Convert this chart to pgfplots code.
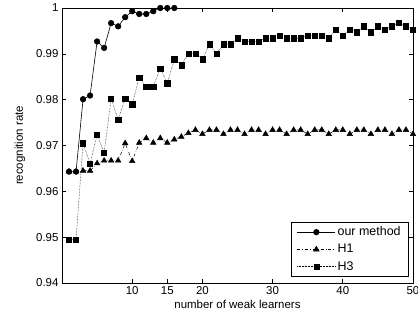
\documentclass[border=0pt]{standalone}
\usepackage{pgfplots}
\pgfplotsset{compat=1.18}
\usepackage{fontspec}
\setmainfont{Liberation Sans}
\begin{document}
\begin{tikzpicture}
\useasboundingbox (-62bp,-44bp) rectangle (356bp,283bp);
\begin{axis}[
  at={(0,0)}, anchor=south west,
  scale only axis, width=351bp, height=275bp,
  xmin=0, xmax=50, ymin=0.94, ymax=1,
  xtick={10,15,20,30,40,50},
  ytick={0.94,0.95,0.96,0.97,0.98,0.99,1},
  yticklabels={0.94,0.95,0.96,0.97,0.98,0.99,1},
  tick align=inside,
  major tick length=4bp,
  /pgf/number format/assume math mode=true,
  tick label style={font=\fontsize{11.5}{13}\selectfont},
  label style={font=\fontsize{11.5}{13}\selectfont},
  xlabel={number of weak learners},
  ylabel={recognition rate},
  xlabel style={yshift=1bp},
  ylabel style={yshift=4bp},
  axis line style={line width=0.8pt},
  every tick/.style={black, line width=0.6pt},
  legend style={at={(0.9886,0.0218)}, anchor=south east, draw=black, line width=0.8pt,
    font=\fontsize{12.5}{14}\selectfont, row sep=3pt, inner xsep=6pt, inner ysep=3pt},
  legend cell align=left,
  legend image code/.code={
    \draw[#1, mark repeat=2, mark phase=2] plot coordinates {(0cm,0cm) (0.67cm,0cm) (1.34cm,0cm)};
  },
]
\addplot[black, solid, line width=0.6pt, mark=*, mark size=2.8pt] coordinates {
(1,0.9643)(2,0.9643)(3,0.9801)(4,0.9809)(5,0.9927)(6,0.9913)(7,0.9967)(8,0.9960)
(9,0.9980)(10,0.9993)(11,0.9987)(12,0.9987)(13,0.9993)(14,1.0)(15,1.0)(16,1.0)};
\addlegendentry{our method}
\addplot[black, dash dot, line width=0.5pt, mark=triangle*, mark size=3.2pt, mark options={solid}] coordinates {
(1,0.9643)(2,0.9643)(3,0.9645)(4,0.9645)(5,0.9661)(6,0.9667)(7,0.9667)(8,0.9667)
(9,0.9705)(10,0.9666)(11,0.9706)(12,0.9716)(13,0.9706)(14,0.9716)(15,0.9706)(16,0.9713)
(17,0.9719)(18,0.9727)(19,0.9734)(20,0.9725)(21,0.9734)(22,0.9734)(23,0.9725)(24,0.9734)
(25,0.9734)(26,0.9725)(27,0.9734)(28,0.9734)(29,0.9725)(30,0.9734)(31,0.9734)(32,0.9725)
(33,0.9734)(34,0.9734)(35,0.9725)(36,0.9734)(37,0.9734)(38,0.9725)(39,0.9734)(40,0.9734)
(41,0.9725)(42,0.9734)(43,0.9734)(44,0.9725)(45,0.9734)(46,0.9734)(47,0.9725)(48,0.9734)
(49,0.9734)(50,0.9725)};
\addlegendentry{H1}
\addplot[black, densely dotted, line width=0.5pt, mark=square*, mark size=2.6pt, mark options={solid}] coordinates {
(1,0.9495)(2,0.9495)(3,0.9705)(4,0.9660)(5,0.9724)(6,0.9684)(7,0.9802)(8,0.9757)
(9,0.9802)(10,0.9790)(11,0.9848)(12,0.9829)(13,0.9829)(14,0.9868)(15,0.9836)(16,0.9888)
(17,0.9875)(18,0.9901)(19,0.9901)(20,0.9888)(21,0.9921)(22,0.9901)(23,0.9921)(24,0.9921)
(25,0.9934)(26,0.9927)(27,0.9927)(28,0.9927)(29,0.9934)(30,0.9934)(31,0.9940)(32,0.9934)
(33,0.9934)(34,0.9934)(35,0.9940)(36,0.9940)(37,0.9940)(38,0.9934)(39,0.9953)(40,0.9940)
(41,0.9953)(42,0.9947)(43,0.9960)(44,0.9947)(45,0.9960)(46,0.9953)(47,0.9960)(48,0.9967)
(49,0.9960)(50,0.9953)};
\addlegendentry{H3}
\end{axis}
\end{tikzpicture}
\end{document}
